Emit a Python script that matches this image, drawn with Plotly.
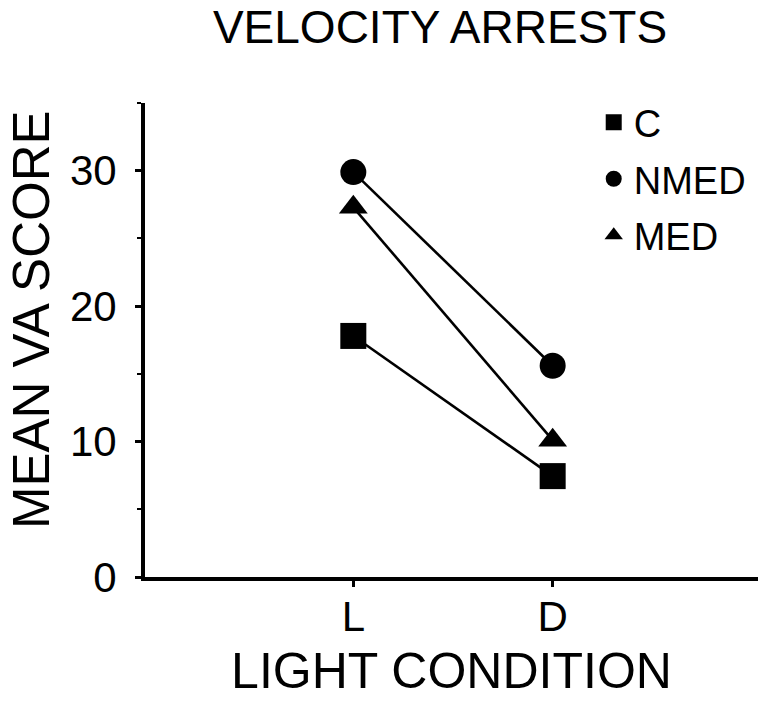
import plotly.graph_objects as go

# ---- data ----
conditions = ["L", "D"]
groups = ["C", "NMED", "MED"]
c_scores = [17.8, 7.45]
nmed_scores = [29.9, 15.6]
med_scores = [27.3, 10.1]
symbols = ["square", "circle", "triangle-up"]
marker_sizes = [26, 26, 25]
y_ticks = [0, 10, 20, 30]

series = [c_scores, nmed_scores, med_scores]
xpos = [i + 1 for i in range(len(conditions))]

FONT = "Liberation Sans, Arial, Helvetica, sans-serif"
L_M, R_M, T_M, B_M = 145, 18, 103, 125
PW, PH = 776 - L_M - R_M, 702 - T_M - B_M

fig = go.Figure()

# connecting lines
for name, vals in zip(groups, series):
    fig.add_trace(go.Scatter(
        x=xpos, y=vals, mode="lines",
        line=dict(color="black", width=2.6),
        showlegend=False, hoverinfo="skip", cliponaxis=False))

# markers (also legend entries)
for i, (name, vals) in enumerate(zip(groups, series)):
    fig.add_trace(go.Scatter(
        x=xpos, y=vals, mode="markers", name=name,
        legendgroup=name,
        marker=dict(symbol=symbols[i], size=marker_sizes[i], color="black",
                    line=dict(width=0)),
        cliponaxis=False))

fig.update_layout(
    template="none",
    width=776, height=702,
    margin=dict(l=L_M, r=R_M, t=T_M, b=B_M, autoexpand=False),
    paper_bgcolor="white", plot_bgcolor="white",
    font=dict(family=FONT, color="black"),
    title=dict(text="VELOCITY ARRESTS", x=440 / 776, xanchor="center",
               xref="container",
               y=1 - 27 / 702, yanchor="middle", yref="container",
               font=dict(size=46, family=FONT, color="black")),
    legend=dict(x=0.732, y=1.025, xanchor="left", yanchor="top",
                font=dict(size=38, family=FONT, color="black"),
                bgcolor="rgba(0,0,0,0)", tracegroupgap=4,
                traceorder="grouped", itemsizing="trace"),
    showlegend=True,
    annotations=[dict(
        text="MEAN VA SCORE", textangle=-90, showarrow=False,
        xref="paper", yref="paper",
        x=(31 - L_M) / PW, y=(702 - B_M - 320) / PH,
        xanchor="center", yanchor="middle",
        font=dict(size=51, family=FONT, color="black"))],
)

fig.update_xaxes(
    automargin=False,
    range=[-0.045, 3.03], tickvals=xpos, ticktext=conditions,
    showline=True, linecolor="black", linewidth=4,
    ticks="outside", ticklen=6, tickwidth=2.5, tickcolor="black",
    tickfont=dict(size=42, family=FONT, color="black"),
    ticklabelstandoff=-6,
    showgrid=False, zeroline=False,
    title=dict(text="LIGHT CONDITION", standoff=15,
               font=dict(size=50, family=FONT, color="black")),
)

fig.update_yaxes(
    automargin=False,
    range=[0, 35], tickvals=y_ticks,
    showline=True, linecolor="black", linewidth=4,
    ticks="outside", ticklen=6, tickwidth=2.5, tickcolor="black",
    minor=dict(dtick=5, ticks="outside", ticklen=4, tickwidth=2, tickcolor="black"),
    tickfont=dict(size=42, family=FONT, color="black"),
    ticklabelstandoff=10,
    showgrid=False, zeroline=False,
)

fig.write_html("out.html")
